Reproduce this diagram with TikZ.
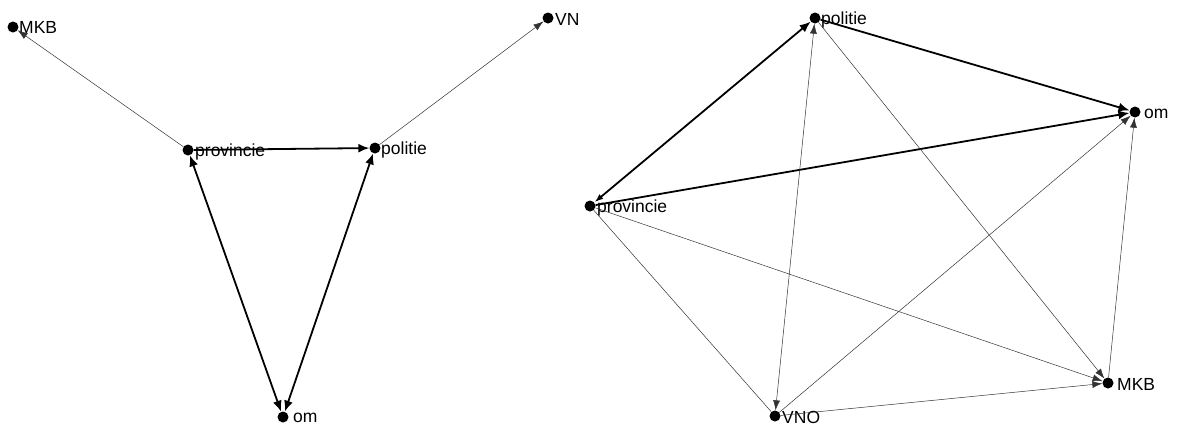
\documentclass[tikz,border=0pt]{standalone}
\usepackage{fontspec}
\setmainfont{Liberation Sans}
\usetikzlibrary{arrows.meta}
\begin{document}
\begin{tikzpicture}[x=1pt,y=-1pt,
  dot/.style={circle,fill=black,inner sep=0pt,minimum size=11pt},
  lbl/.style={anchor=west,inner sep=0pt,font=\fontsize{17.5}{17.5}\selectfont},
  thick edge/.style={line width=1.8pt,-{Latex[length=11pt,width=9pt]}},
  thin edge/.style={line width=0.5pt,draw=black!80,-{Latex[length=10pt,width=7pt]}},
  both thick/.style={line width=1.8pt,{Latex[length=11pt,width=9pt]}-{Latex[length=11pt,width=9pt]}},
  both thin/.style={line width=0.5pt,draw=black!80,{Latex[length=10pt,width=7pt]}-{Latex[length=10pt,width=7pt]}}
]
\useasboundingbox (0,0) rectangle (1187,429);
% left graph
\node[dot] (lmkb) at (13,27) {};
\node[lbl] (lmkbt) at (19,27) {MKB};
\node[dot] (lvno) at (548,18) {};
\node[lbl] (lvnot) at (555,19) {VN};
\node[dot] (lprov) at (188,150) {};
\node[lbl] (lprovt) at (195,152) {provincie};
\node[dot] (lpol) at (375,148) {};
\node[lbl] (lpolt) at (381,150) {politie};
\node[dot] (lom) at (283,417) {};
\node[lbl] (lomt) at (293,418) {om};
\draw[thin edge] (lprov) -- (lmkb);
\draw[thin edge] (lpol) -- (lvno);
\draw[thick edge] (lprov) -- (lpol);
\draw[both thick] (lprov) -- (lom);
\draw[both thick] (lom) -- (lpol);
% right graph
\node[dot] (rpol) at (815,18) {};
\node[lbl] (rpolt) at (821,20) {politie};
\node[dot] (rom) at (1135,112) {};
\node[lbl] (romt) at (1144,114) {om};
\node[dot] (rprov) at (590,206) {};
\node[lbl] (rprovt) at (597,208) {provincie};
\node[dot] (rmkb) at (1108,383) {};
\node[lbl] (rmkbt) at (1117,384) {MKB};
\node[dot] (rvno) at (775,416) {};
\node[lbl] (rvnot) at (782,417) {VNO};
\draw[thick edge] (rpol) -- (rom);
\draw[line width=1.8pt,{Latex[open,length=9pt,width=6pt]}-{Latex[length=11pt,width=9pt]}] (rprov) -- (rpol);
\draw[thick edge] (rprov) -- (rom);
\draw[both thin] (rpol) -- (rvno);
\draw[thin edge] (rpol) -- (rmkb);
\draw[thin edge] (rprov) -- (rmkb);
\draw[thin edge,-] (rprov) -- (rvno);
\draw[thin edge] (rvno) -- (rom);
\draw[thin edge] (rvno) -- (rmkb);
\draw[thin edge] (rmkb) -- (rom);
\end{tikzpicture}
\end{document}
